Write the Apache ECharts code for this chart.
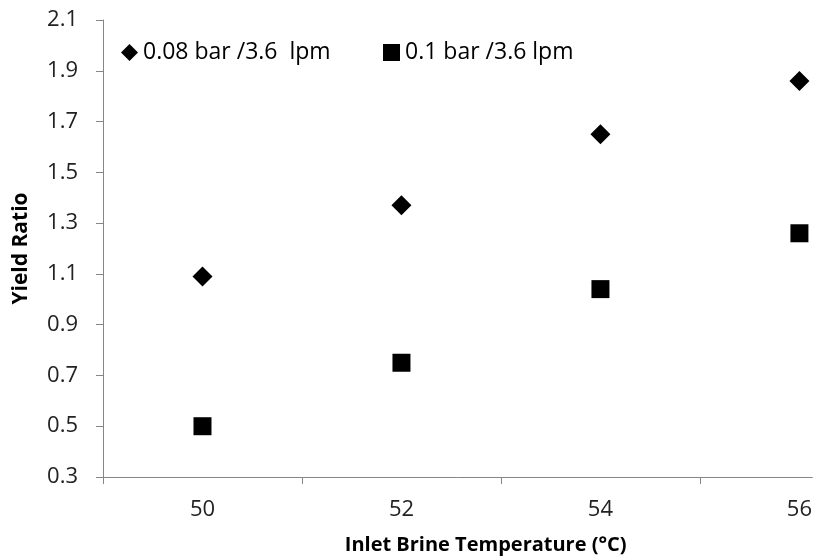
<!DOCTYPE html>
<html>
<head>
<meta charset="utf-8">
<script src="https://cdn.jsdelivr.net/npm/echarts@6/dist/echarts.min.js"></script>
<style>
  html, body { margin: 0; padding: 0; background: #fff; }
  #chart { width: 815px; height: 560px; }
</style>
</head>
<body>
<div id="chart"></div>
<script>
const temps = [50, 52, 54, 56];
const ratio008 = [1.09, 1.37, 1.65, 1.86];
const ratio01 = [0.50, 0.75, 1.04, 1.26];
const xLabels = [50, 52, 54, 56];
const xTicks = [49, 51, 53, 55];

const chart = echarts.init(document.getElementById("chart"));
const font = "'Open Sans', 'Liberation Sans', sans-serif";
const name008 = "0.08 bar /3.6  lpm";
const name01 = "0.1 bar /3.6 lpm";

const legendBase = {
  top: 36,
  itemWidth: 17,
  itemHeight: 17,
  itemGap: 6,
  itemStyle: { opacity: 1 },
  textStyle: { fontFamily: font, fontSize: 23, color: "#000" },
};

const option = {
  animation: false,
  backgroundColor: "#fff",
  grid: {
    left: 103,
    top: 20,
    height: 460,
    right: 0,
  },
  legend: [
    Object.assign({}, legendBase, { left: 116, data: [{ name: name008, icon: "diamond" }] }),
    Object.assign({}, legendBase, { left: 378, data: [{ name: name01, icon: "rect" }] }),
  ],
  xAxis: {
    type: "value",
    min: 49,
    max: 56.13,
    name: "Inlet Brine Temperature (°C)",
    nameLocation: "middle",
    nameGap: 58,
    nameTextStyle: {
      fontFamily: font,
      fontSize: 20,
      fontWeight: "bold",
      color: "#000",
      padding: [0, 0, 0, 56],
    },
    axisLine: { lineStyle: { color: "#868686", width: 1 } },
    axisTick: {
      show: true,
      length: 7,
      customValues: xTicks,
      lineStyle: { color: "#868686" },
    },
    axisLabel: {
      fontFamily: font,
      fontSize: 22,
      color: "#222",
      margin: 22,
      customValues: xLabels,
    },
    splitLine: { show: false },
  },
  yAxis: {
    type: "value",
    min: 0.3,
    max: 2.1,
    interval: 0.2,
    name: "Yield Ratio",
    nameLocation: "middle",
    nameGap: 71,
    nameTextStyle: { fontFamily: font, fontSize: 21, fontWeight: "bold", color: "#000" },
    axisLine: { show: true, lineStyle: { color: "#868686", width: 1 } },
    axisTick: { show: true, length: 7, lineStyle: { color: "#868686" } },
    axisLabel: {
      fontFamily: font,
      fontSize: 22,
      color: "#222",
      margin: 25,
      formatter: (v) => v.toFixed(1),
    },
    splitLine: { show: false },
  },
  series: [
    {
      name: name008,
      type: "scatter",
      symbol: "diamond",
      symbolSize: 20,
      itemStyle: { color: "#000", opacity: 1 },
      data: temps.map((t, i) => [t, ratio008[i]]),
    },
    {
      name: name01,
      type: "scatter",
      symbol: "rect",
      symbolSize: 18,
      itemStyle: { color: "#000", opacity: 1 },
      data: temps.map((t, i) => [t, ratio01[i]]),
    },
  ],
};

chart.setOption(option);
</script>
</body>
</html>
